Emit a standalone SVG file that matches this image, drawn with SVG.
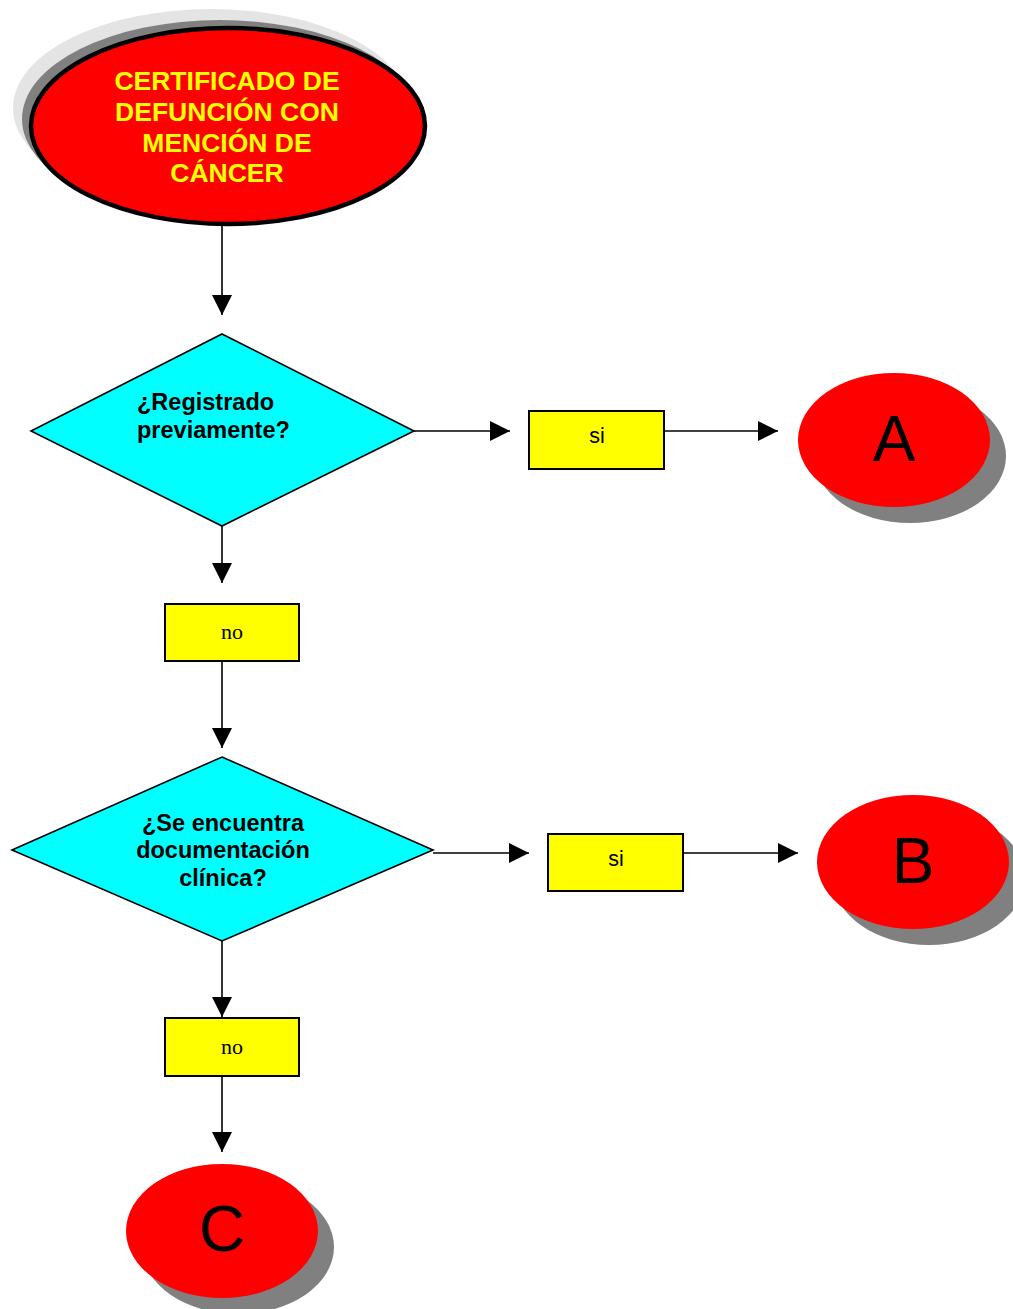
<svg xmlns="http://www.w3.org/2000/svg" width="1013" height="1309" viewBox="0 0 1013 1309">
<style>
.conn{stroke:#000;stroke-width:1.6;fill:none}
.box{fill:#ffff00;stroke:#000;stroke-width:2}
.dia{fill:#00ffff;stroke:#000;stroke-width:1.6}
.red{fill:#ff0000}
.shadow{fill:#808080}
.q{font-family:"Liberation Sans",Arial,sans-serif;font-weight:bold;font-size:23.5px;fill:#000}
.lbl{font-family:"Liberation Sans",Arial,sans-serif;font-size:21.5px;fill:#000;text-anchor:middle}
.no{font-family:"Liberation Serif","Times New Roman",serif;font-size:22px;fill:#000;text-anchor:middle}
.big{font-family:"Liberation Sans",Arial,sans-serif;font-size:64px;fill:#000;text-anchor:middle}
.title{font-family:"Liberation Sans",Arial,sans-serif;font-weight:bold;font-size:26.5px;fill:#ffff00;text-anchor:middle}
</style>
<defs>
<marker id="arr" markerUnits="userSpaceOnUse" markerWidth="20" markerHeight="20" refX="20" refY="10" orient="auto">
<path d="M0,0 L20,10 L0,20 Z" fill="#000"/>
</marker>
</defs>
<rect width="1013" height="1309" fill="#fff"/>

<g id="connectors">
<line class="conn" x1="222" y1="225" x2="222" y2="315" marker-end="url(#arr)"/>
<line class="conn" x1="414" y1="431" x2="510" y2="431" marker-end="url(#arr)"/>
<line class="conn" x1="664" y1="431" x2="778" y2="431" marker-end="url(#arr)"/>
<line class="conn" x1="222" y1="526" x2="222" y2="583" marker-end="url(#arr)"/>
<line class="conn" x1="222" y1="661" x2="222" y2="748" marker-end="url(#arr)"/>
<line class="conn" x1="433" y1="853" x2="529" y2="853" marker-end="url(#arr)"/>
<line class="conn" x1="683" y1="853" x2="798" y2="853" marker-end="url(#arr)"/>
<line class="conn" x1="222" y1="941" x2="222" y2="1017" marker-end="url(#arr)"/>
<line class="conn" x1="222" y1="1076" x2="222" y2="1152" marker-end="url(#arr)"/>
</g>

<g id="start">
<ellipse cx="211" cy="108" rx="198" ry="99" fill="#e4e4e4"/>
<ellipse cx="220" cy="119" rx="198" ry="99" fill="#808080"/>
<ellipse cx="228" cy="126" rx="197" ry="98" class="red" stroke="#000" stroke-width="4.5"/>
<text class="title" x="227" y="90">CERTIFICADO DE</text>
<text class="title" x="227" y="121">DEFUNCIÓN CON</text>
<text class="title" x="227" y="152">MENCIÓN DE</text>
<text class="title" x="227" y="182">CÁNCER</text>
</g>

<g id="q1">
<polygon class="dia" points="222,334 414,431 222,526 31,431"/>
<text class="q" x="137" y="410">¿Registrado</text>
<text class="q" x="137" y="438">previamente?</text>
</g>

<g id="si1">
<rect class="box" x="529" y="411" width="135" height="58"/>
<text class="lbl" x="597" y="443">si</text>
</g>

<g id="A">
<ellipse class="shadow" cx="910" cy="456" rx="96" ry="67"/>
<ellipse class="red" cx="894" cy="440" rx="96" ry="67"/>
<text class="big" x="894" y="461">A</text>
</g>

<g id="no1">
<rect class="box" x="165" y="604" width="134" height="57"/>
<text class="no" x="232" y="639">no</text>
</g>

<g id="q2">
<polygon class="dia" points="222,757 433,850 222,941 12,850"/>
<text class="q" x="223" y="831" text-anchor="middle">¿Se encuentra</text>
<text class="q" x="223" y="858" text-anchor="middle">documentación</text>
<text class="q" x="223" y="886" text-anchor="middle">clínica?</text>
</g>

<g id="si2">
<rect class="box" x="548" y="834" width="135" height="57"/>
<text class="lbl" x="616" y="866">si</text>
</g>

<g id="B">
<ellipse class="shadow" cx="929" cy="878" rx="96" ry="67"/>
<ellipse class="red" cx="913" cy="862" rx="96" ry="67"/>
<text class="big" x="913" y="883">B</text>
</g>

<g id="no2">
<rect class="box" x="165" y="1018" width="134" height="58"/>
<text class="no" x="232" y="1054">no</text>
</g>

<g id="C">
<ellipse class="shadow" cx="238" cy="1247" rx="96" ry="67"/>
<ellipse class="red" cx="222" cy="1231" rx="96" ry="67"/>
<text class="big" x="222" y="1251">C</text>
</g>
</svg>
